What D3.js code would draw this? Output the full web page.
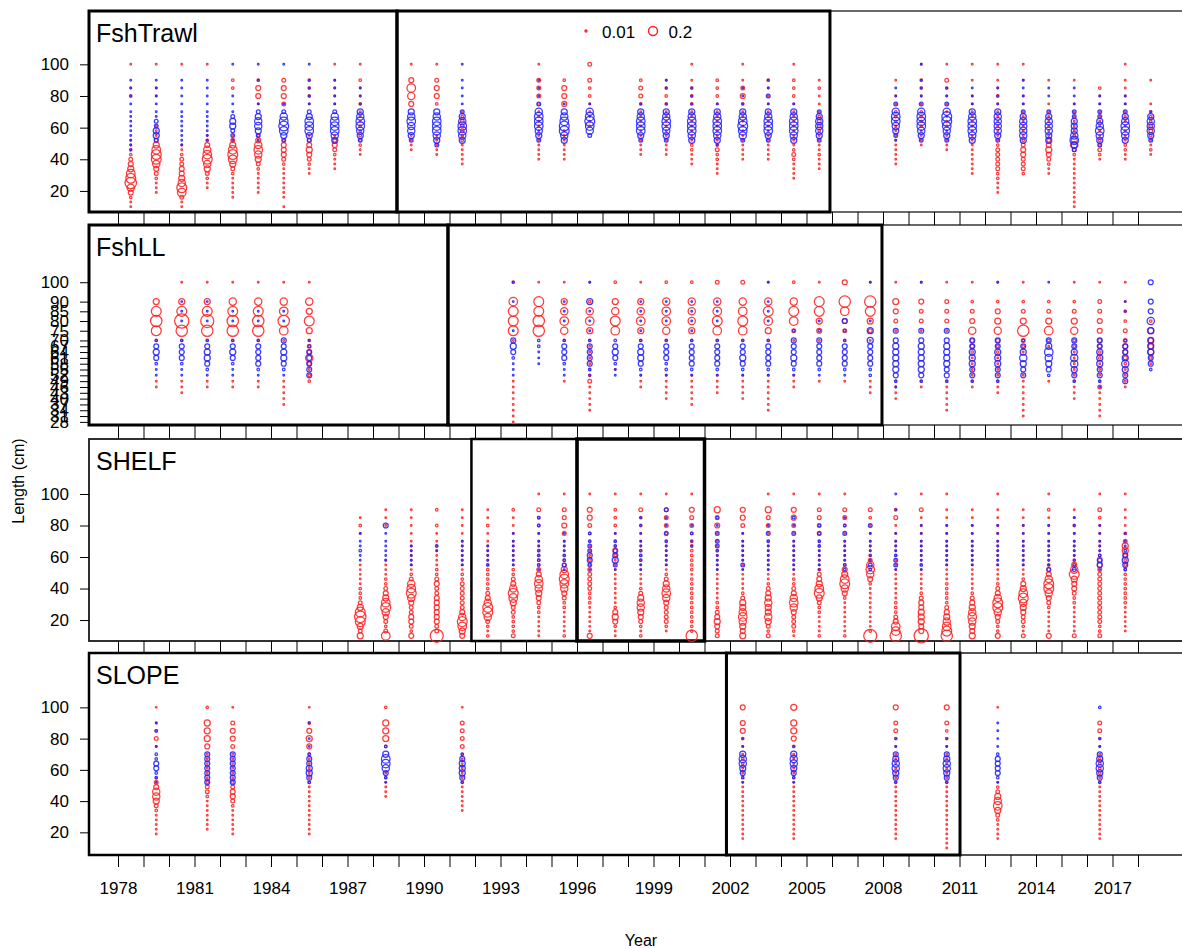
<!DOCTYPE html>
<html>
<head>
<meta charset="utf-8">
<script src="https://cdn.jsdelivr.net/npm/d3@7"></script>
<style>
  body { margin: 0; background: #fff; }
  text { font-family: "Liberation Sans", Arial, sans-serif; }
</style>
</head>
<body>
<svg id="drawing_region"></svg>
<script>
// length bins (cm), shared by every panel
const lengthBins = [10, 13, 16, 19, 22, 25, 28, 31, 34, 37, 40, 43, 46, 49, 52, 55, 58, 61, 64, 67, 70, 75, 80, 85, 90, 100];
// one character per bin in the strings below: 0 = no point, 1..b = proportion class
const codeValues = [0, 0.007, 0.016, 0.035, 0.06, 0.09, 0.13, 0.18, 0.24, 0.32, 0.42, 0.5];

const labelYears = [1978, 1981, 1984, 1987, 1990, 1993, 1996, 1999, 2002, 2005, 2008, 2011, 2014, 2017];
const yTicks = [20, 40, 60, 80, 100];
const llTicks = [28, 31, 34, 37, 40, 43, 46, 49, 52, 55, 58, 61, 64, 67, 70, 75, 80, 85, 90, 100];
const legendValues = [0.01, 0.2];
const panelNames = ['FshTrawl', 'FshLL', 'SHELF', 'SLOPE'];

const trawlYears = [1978, 1979, 1980, 1981, 1982, 1983, 1984, 1985, 1986, 1987, 1989, 1990, 1991, 1994, 1995, 1996,
  1998, 1999, 2000, 2001, 2002, 2003, 2004, 2005, 2008, 2009, 2010, 2011, 2012, 2013, 2014, 2015, 2016, 2017, 2018];
const trawlRed = [
  "1124698 7543221 1000000 02101", "0001112 3468875 3111000 01101", "1137865 4433211 0000000 00001",
  "0000112 3568764 2100000 00001", "0011111 2357875 3100000 00220", "0001111 1235676 4200000 14420",
  "1011111 1123444 2000000 34430", "0000000 1123454 3100000 12220", "0000000 0111234 3100000 11111",
  "0000000 0000112 2222111 21121", "0000000 0000011 1100000 46741", "0000000 0000111 1100000 24431",
  "0000000 0011111 2233321 00000", "0000000 0001111 1111111 23331", "0000000 0001111 1110000 44420",
  "0000000 0000000 0001111 12233", "0000000 0000111 1111111 23320", "0000000 0000111 1111111 22210",
  "0000000 0011122 1111111 22211", "0000000 1112232 1111111 12220", "0000000 0001111 1111111 24311",
  "0000000 0001111 1111111 11120", "0000001 1112321 1111111 12221", "0000000 0111211 1123321 11210",
  "0000000 0011111 1111222 11010", "0000000 0000001 1112222 11221", "0000000 0000011 1111111 11231",
  "0000000 1111111 1111111 11011", "0001112 2333332 1111111 12111", "0000000 2333443 2111111 11011",
  "0000000 1123454 3111111 10010", "1111111 1111236 5211111 10010", "0000000 0001232 2111111 11200",
  "0000000 0001122 1111111 11111", "0000000 0000121 1233222 10010"
];
const trawlBlue = [
  "0000000 0000011 1111111 11110", "0000000 0000000 3553311 11110", "0000000 0000001 1111111 11110",
  "0000000 0000000 1111111 11110", "0000000 0000000 1335531 11001", "0000000 0000000 1356653 10011",
  "0000000 0000000 3578763 10001", "0000000 0000000 3577753 11111", "0000000 0000000 5677763 11110",
  "0000000 0000000 3567765 11100", "0000000 0000000 3566765 00000", "0000000 0000003 5677765 00000",
  "0000000 0000000 5677653 11111", "0000000 0000000 3567776 31110", "0000000 0000000 5688765 10000",
  "0000000 0000000 0367876 10000", "0000000 0000000 3577765 10000", "0000000 0000000 3567765 10110",
  "0000000 0000000 5677765 11100", "0000000 0000001 5677765 10000", "0000000 0000000 3678765 11100",
  "0000000 0000000 3577765 13110", "0000000 0000000 5677765 10000", "0000000 0000000 3566653 00000",
  "0000000 0000000 1356776 31100", "0000000 0000000 3567776 31111", "0000000 0000000 3567886 31100",
  "0000000 0000000 5677765 11100", "0000000 0000000 3566665 11100", "0000000 0000000 5666653 11110",
  "0000000 0000000 5566653 01100", "0000000 0000035 7655533 11100", "0000000 0000003 5676533 11000",
  "0000000 0000000 5677653 11000", "0000000 0000000 3566651 00000"
];

const llYears = [1979, 1980, 1981, 1982, 1983, 1984, 1985, 1993, 1994, 1995, 1996, 1997, 1998, 1999, 2000, 2001,
  2002, 2003, 2004, 2005, 2006, 2007, 2008, 2009, 2010, 2011, 2012, 2013, 2014, 2015, 2016, 2017, 2018];
const llRed = [
  "0000000 0000011 0000001 89850", "0000000 0000111 0000001 9b851", "0000000 0000011 0000001 9a851",
  "0000000 0000011 0000001 99861", "0000000 0000011 0000001 99861", "0000000 0011111 0000001 79761",
  "0000000 0000002 2136332 58561", "0000001 1111111 0000001 88872", "0000000 0000000 0000000 99881",
  "0000000 0000001 0000001 67651", "0000000 0111113 2111111 57621", "0000000 0000000 0100000 78652",
  "0000000 0000011 1000001 57651", "0000000 0001111 1000001 67762", "0000000 0011111 1000001 56662",
  "0000000 0000111 1000001 78763", "0000000 0001111 1000001 78763", "0000000 0111111 1000001 57861",
  "0000000 0000011 1000001 37862", "0000000 0000001 0000001 45881", "0000000 0000001 0000001 34794",
  "0000000 0000111 0000001 35891", "0000000 0001111 0000000 13451", "0000000 0000011 0000000 13341",
  "0000000 0111111 0000000 13331", "0000000 0000011 1111233 64321", "0000000 0000111 1111223 65421",
  "0000000 1111111 1000123 95321", "0000000 0000001 0000012 75320", "0000000 0001111 1111122 65321",
  "0000000 1111131 1112233 44331", "0000000 0000011 1123443 32211", "0000000 0000000 0012544 52000"
];
const llBlue = [
  "0000000 0000000 1124542 00000", "0000000 0000000 1124442 01110", "0000000 0000000 1245542 01110",
  "0000000 0000000 1124542 01100", "0000000 0000000 1244442 01100", "0000000 0000000 1245544 01100",
  "0000000 0000000 4444421 00000", "0000000 0000000 1112454 10011", "0000000 0000000 0011122 00000",
  "0000000 0000000 1124442 01110", "0000000 0000000 1244442 11151", "0000000 0000000 1124542 00000",
  "0000000 0000000 1245542 11110", "0000000 0000000 1224442 01110", "0000000 0000000 1244442 11110",
  "0000000 0000000 1244442 01110", "0000000 0000000 1245442 00000", "0000000 0000000 1244442 01111",
  "0000000 0000000 1245444 20000", "0000000 0000000 1244444 21000", "0000000 0000000 1244442 24000",
  "0000000 0000000 2244445 51001", "0000000 0000012 4555554 40000", "0000000 0000002 4555554 40001",
  "0000000 0000002 4455554 40000", "0000000 0000002 4455544 00000", "0000000 0000002 4455544 00001",
  "0000000 0000000 4456542 00000", "0000000 0000000 2456754 00001", "0000000 0000002 4566544 00000",
  "0000000 0000012 4455544 00000", "0000000 0000004 4565442 00110", "0000000 0000000 0244555 56444"
];

const shelfYears = [1987, 1988, 1989, 1990, 1991, 1992, 1993, 1994, 1995, 1996, 1997, 1998, 1999, 2000, 2001, 2002,
  2003, 2004, 2005, 2006, 2007, 2008, 2009, 2010, 2011, 2012, 2013, 2014, 2015, 2016, 2017];
const shelfRed = [
  "5358985 3222111 1100000 12100", "7323468 7543221 1110000 01110", "4234433 4687632 1111111 11110",
  "a334444 4433432 2111111 12020", "4578643 3333322 1111111 11110", "2123688 6432222 2111111 12110",
  "3222233 5786432 2111111 11120", "1111122 3456764 3221111 12231", "2111112 2346787 5321111 34331",
  "4111111 2223333 3321111 23441", "1124542 1111111 1112411 12221", "2123456 6532111 1111111 12231",
  "0123333 4676532 1111111 23331", "9222222 2222221 2222222 23341", "3345432 2111111 1111111 14350",
  "5456765 5321111 1111111 13440", "3235655 6543211 1111111 13351", "1233346 7643221 1111111 13441",
  "2111122 3587543 2111111 23331", "2111111 1246875 4211111 12331", "a211111 1111246 7632111 11230",
  "9774322 2111111 1111111 11320", "b445554 4321111 1111111 11131", "9876543 2222211 1111111 11111",
  "5456765 4321111 1111111 11110", "4223468 8643211 1111111 11111", "3123345 6875421 1111111 11110",
  "4111112 3468864 3211111 11121", "3111111 2234458 6421111 12110", "3223333 3333333 3432111 11231",
  "0111111 2222222 2223553 21111"
];
const shelfBlue = [
  "0000000 0000000 0011211 10000", "0000000 0000000 0011111 14000", "0000000 0000000 0111110 00000",
  "0000000 0000000 0000120 00000", "0000000 0000000 0111111 00000", "0000000 0000000 0211110 00000",
  "0000000 0000000 0111111 10000", "0000000 0000000 1222211 12200", "0000000 0000000 1322111 10000",
  "0000000 0000000 1244332 20000", "0000000 0000000 1354322 10000", "0000000 0000000 1122211 11100",
  "0000000 0000000 0111112 31130", "0000000 0000000 0000011 21000", "0000000 0000000 1111233 31200",
  "0000000 0000000 1311111 10000", "0000000 0000000 1111112 31000", "0000000 0000000 1111111 31200",
  "0000000 0000000 1111122 32000", "0000000 0000000 2211111 32100", "0000000 0000000 2311111 13000",
  "0000000 0000000 1332111 10011", "0000000 0000000 1211111 11000", "0000000 0000000 0111111 11000",
  "0000000 0000000 0111111 11000", "0000000 0000000 0111111 11000", "0000000 0000000 0111111 11000",
  "0000000 0000000 3111111 11000", "0000000 0000000 3211111 11100", "0000000 0000000 1442111 11000",
  "0000000 0000000 2454211 10000"
];

const slopeYears = [1979, 1981, 1982, 1985, 1988, 1991, 2002, 2004, 2008, 2010, 2012, 2016];
const slopeRed = [
  "0001111 1235664 3100000 13211", "0000111 1111233 2111111 45552", "0001111 1123443 2111111 34431",
  "0001111 1111111 2111112 45421", "0000000 0000111 1110000 25552", "0000000 0111111 1111111 33331",
  "0011111 1111111 1111221 12444", "0011111 1111111 1111111 24555", "0011111 1111111 1111111 12334",
  "1111111 1111111 1111111 12234", "0011112 3576532 1000000 00001", "0011111 1111111 1122221 12330"
];
const slopeBlue = [
  "0000000 0000000 1224422 10210", "0000000 0000000 4444444 00000", "0000000 0000000 4444444 00000",
  "0000000 0000000 2455442 11010", "0000000 0000000 1246775 20000", "0000000 0000000 2455542 00000",
  "0000000 0000000 1245665 11000", "0000000 0000000 1245665 10000", "0000000 0000000 2456654 11000",
  "0000000 0000000 2456654 11000", "0000000 0000000 1244442 11110", "0000000 0000000 2456654 11002"
];

function parseComp(str) {
  return str.replace(/ /g, '').split('')
    .map((c, i) => ({ len: lengthBins[i], v: codeValues[parseInt(c, 16)] }))
    .filter(d => d.v > 0);
}

const svg = d3.select('#drawing_region')
    .attr('width', 1182)
    .attr('height', 949);

const xscale = d3.scaleLinear().domain([1978, 2018]).range([118, 1138]);
const rscale = d3.scaleSqrt().domain([0, 0.2]).range([0, 4.5]);
const allYears = d3.range(1978, 2019);
const plotLeft = 89, plotRight = 1215;
const redCol = '#ff2020', blueCol = '#2020ff';
const fontSize = 17;

class BubblePanel {
  constructor(config, years, red, blue) {
    this.config = config;
    this.years = years;
    this.red = red;
    this.blue = blue;
    this.init();
  }
  init() {
    let self = this;
    const c = self.config;
    self.yscale = d3.scaleLinear()
        .domain(c.domain)
        .range([c.bottom, c.top]);
    self.chart = svg.append('g');
    self.yaxis = d3.axisLeft(self.yscale)
        .tickValues(c.ticks)
        .tickSize(9)
        .tickPadding(11);
  }
  render() {
    let self = this;
    const c = self.config;

    // thin frame over the whole width, heavier frames over some year blocks
    self.chart.append('rect')
        .attr('x', plotLeft).attr('y', c.top)
        .attr('width', plotRight - plotLeft).attr('height', c.bottom - c.top)
        .attr('fill', 'none').attr('stroke', '#1a1a1a').attr('stroke-width', c.outer);
    self.chart.selectAll('rect.block')
      .data(c.blocks)
      .join('rect')
        .attr('class', 'block')
        .attr('x', d => d.from === null ? plotLeft : xscale(d.from))
        .attr('y', c.top)
        .attr('width', d => xscale(d.to) - (d.from === null ? plotLeft : xscale(d.from)))
        .attr('height', c.bottom - c.top)
        .attr('fill', 'none').attr('stroke', '#000').attr('stroke-width', d => d.w);

    const cols = self.years.map((yr, i) => ({ year: yr, red: parseComp(self.red[i]), blue: parseComp(self.blue[i]) }));
    [['red', redCol], ['blue', blueCol]].forEach(([key, col]) => {
      const pts = cols.flatMap(cl => cl[key].map(d => ({ year: cl.year, len: d.len, v: d.v })));
      self.chart.append('g')
        .selectAll('circle')
        .data(pts)
        .join('circle')
          .attr('cx', d => xscale(d.year + 0.5))
          .attr('cy', d => self.yscale(d.len))
          .attr('r', d => rscale(d.v))
          .attr('fill', 'none')
          .attr('stroke', col)
          .attr('stroke-opacity', 0.88)
          .attr('stroke-width', 1.25);
    });

    const yg = self.chart.append('g')
        .attr('transform', `translate(${plotLeft},0)`)
        .call(self.yaxis);
    yg.select('.domain').remove();
    yg.attr('font-size', fontSize).attr('font-family', '"Liberation Sans", Arial, sans-serif');
    yg.selectAll('text').attr('fill', '#000');

    self.chart.append('text')
        .attr('x', plotLeft + 7)
        .attr('y', c.top + 31)
        .attr('font-size', 25)
        .text(c.name);
  }
}

const panelConfigs = [
  { name: panelNames[0], top: 11, bottom: 212, domain: [6.7, 133.7], ticks: yTicks, outer: 1.3,
    blocks: [{ from: null, to: 1988.94, w: 3 }, { from: 1988.94, to: 2005.92, w: 3 }] },
  { name: panelNames[1], top: 225, bottom: 425, domain: [26.4, 129.5], ticks: llTicks, outer: 1.3,
    blocks: [{ from: null, to: 1990.94, w: 3 }, { from: 1990.94, to: 2007.96, w: 3 }] },
  { name: panelNames[2], top: 439, bottom: 641, domain: [6.7, 134.9], ticks: yTicks, outer: 1.8,
    blocks: [{ from: 1991.86, to: 1996, w: 2.5 }, { from: 1996, to: 2001, w: 3.5 }] },
  { name: panelNames[3], top: 653, bottom: 855, domain: [5.5, 134.8], ticks: yTicks, outer: 1.5,
    blocks: [{ from: null, to: 2001.86, w: 2.5 }, { from: 2001.86, to: 2011.02, w: 3 }] }
];
const panelData = [
  [trawlYears, trawlRed, trawlBlue],
  [llYears, llRed, llBlue],
  [shelfYears, shelfRed, shelfBlue],
  [slopeYears, slopeRed, slopeBlue]
];

panelConfigs.forEach((c, i) => {
  const p = new BubblePanel(c, ...panelData[i]);
  p.render();
});

// year ticks in the gaps between panels
panelConfigs.slice(0, 3).forEach((c, i) => {
  const gap = panelConfigs[i + 1].top - c.bottom;
  const g = svg.append('g')
      .attr('transform', `translate(0,${c.bottom})`)
      .call(d3.axisBottom(xscale).tickValues(allYears).tickSize(gap).tickFormat(''));
  g.select('.domain').remove();
});

// bottom year axis
const xaxis = d3.axisBottom(xscale)
    .tickValues(allYears)
    .tickSize(12)
    .tickPadding(15)
    .tickFormat(d => labelYears.includes(d) ? d : '');
const xg = svg.append('g')
    .attr('transform', `translate(0,${panelConfigs[3].bottom})`)
    .call(xaxis);
xg.select('.domain').remove();
xg.attr('font-size', fontSize).attr('font-family', '"Liberation Sans", Arial, sans-serif');
xg.selectAll('text').attr('fill', '#000');

// legend
const legend = svg.append('g');
legend.append('circle').attr('cx', 586).attr('cy', 31).attr('r', rscale(legendValues[0]))
    .attr('fill', 'none').attr('stroke', redCol).attr('stroke-width', 1.4);
legend.append('text').attr('x', 602).attr('y', 37.5).attr('font-size', fontSize).text(legendValues[0]);
legend.append('circle').attr('cx', 653).attr('cy', 31).attr('r', rscale(legendValues[1]))
    .attr('fill', 'none').attr('stroke', redCol).attr('stroke-width', 1.4);
legend.append('text').attr('x', 668.5).attr('y', 37.5).attr('font-size', fontSize).text(legendValues[1]);

// axis titles
svg.append('text')
    .attr('x', 641).attr('y', 946)
    .attr('text-anchor', 'middle')
    .attr('font-size', 16)
    .text('Year');
svg.append('text')
    .attr('transform', 'translate(24,481) rotate(-90)')
    .attr('text-anchor', 'middle')
    .attr('font-size', 16)
    .text('Length (cm)');
</script>
</body>
</html>
